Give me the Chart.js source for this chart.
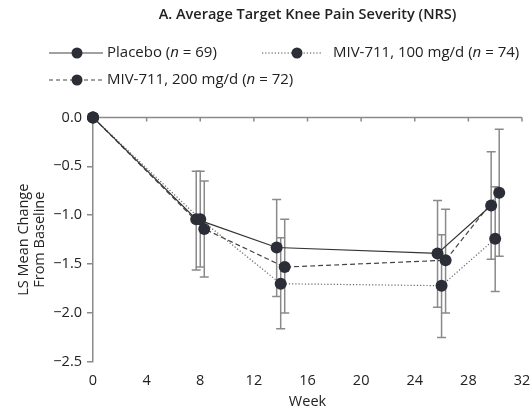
<!DOCTYPE html>
<html>
<head>
<meta charset="utf-8">
<script src="https://cdn.jsdelivr.net/npm/chart.js@4.4.0/dist/chart.umd.min.js"></script>
<style>
  body { margin: 0; background: #fff; }
  canvas { display: block; }
</style>
</head>
<body>
<canvas id="myChart" width="532" height="413"></canvas>
<script>
// values (week, LS mean, 95% CI ends)
const weeksPlacebo = [0, 7.7, 13.7, 25.7, 29.7];
const weeks100 = [0, 8.0, 14.0, 26.0, 30.0];
const weeks200 = [0, 8.3, 14.3, 26.3, 30.3];

const placebo = [0, -1.04, -1.33, -1.39, -0.90];
const placeboHi = [0, -0.55, -0.84, -0.85, -0.35];
const placeboLo = [0, -1.56, -1.83, -1.94, -1.45];

const miv100 = [0, -1.04, -1.70, -1.72, -1.24];
const miv100Hi = [0, -0.55, -1.23, -1.20, -0.71];
const miv100Lo = [0, -1.53, -2.16, -2.25, -1.78];

const miv200 = [0, -1.14, -1.53, -1.46, -0.77];
const miv200Hi = [0, -0.65, -1.04, -0.94, -0.12];
const miv200Lo = [0, -1.63, -2.00, -2.00, -1.42];

const xTicks = [0, 4, 8, 12, 16, 20, 24, 28, 32];
const yTicks = [0, -0.5, -1.0, -1.5, -2.0, -2.5];

const FONT = "'Open Sans', 'DejaVu Sans', sans-serif";
const FS = 14.5;
const DOT = '#2b2e36';
const AXIS = '#8a8a8a';

function pts(xs, ys) {
  return xs.map((x, i) => ({ x: x, y: ys[i] }));
}

// error bars, drawn behind the points
const errorBars = {
  id: 'errorBars',
  beforeDatasetsDraw(chart) {
    const ctx = chart.ctx;
    const xs = chart.scales.x, ys = chart.scales.y;
    ctx.save();
    ctx.strokeStyle = AXIS;
    ctx.lineWidth = 1.5;
    chart.data.datasets.forEach(ds => {
      ds.data.forEach((p, i) => {
        if (ds.hi[i] === ds.lo[i]) return;
        const px = xs.getPixelForValue(p.x);
        const top = ys.getPixelForValue(ds.hi[i]);
        const bot = ys.getPixelForValue(ds.lo[i]);
        ctx.beginPath();
        ctx.moveTo(px, top); ctx.lineTo(px, bot);
        ctx.moveTo(px - 4.5, top); ctx.lineTo(px + 4.5, top);
        ctx.moveTo(px - 4.5, bot); ctx.lineTo(px + 4.5, bot);
        ctx.stroke();
      });
    });
    ctx.restore();
  }
};

// horizontal axis line sits at y = 0 with ticks pointing down
const zeroAxis = {
  id: 'zeroAxis',
  beforeDatasetsDraw(chart) {
    const ctx = chart.ctx;
    const xs = chart.scales.x, ys = chart.scales.y;
    const y0 = ys.getPixelForValue(0);
    ctx.save();
    ctx.strokeStyle = AXIS;
    ctx.lineWidth = 1.5;
    ctx.beginPath();
    ctx.moveTo(xs.getPixelForValue(0), y0);
    ctx.lineTo(xs.getPixelForValue(32), y0);
    xTicks.forEach(t => {
      if (t === 0) return;
      const px = xs.getPixelForValue(t);
      ctx.moveTo(px, y0);
      ctx.lineTo(px, y0 + 4);
    });
    ctx.stroke();
    ctx.restore();
  }
};

// legend with italic n
const customLegend = {
  id: 'customLegend',
  afterDraw(chart) {
    const ctx = chart.ctx;
    const items = [
      { x0: 49, x1: 103, dot: 77, tx: 107, y: 53, dash: [], label: ['Placebo (', 'n', ' = 69)'] },
      { x0: 262, x1: 322, dot: 297, tx: 333, y: 53, dash: [1.2, 2], label: ['MIV-711, 100 mg/d (', 'n', ' = 74)'] },
      { x0: 49, x1: 103, dot: 77, tx: 107, y: 80, dash: [4, 3], label: ['MIV-711, 200 mg/d (', 'n', ' = 72)'] }
    ];
    ctx.save();
    items.forEach(it => {
      ctx.strokeStyle = '#444';
      ctx.lineWidth = 1.2;
      ctx.setLineDash(it.dash);
      ctx.beginPath();
      ctx.moveTo(it.x0, it.y); ctx.lineTo(it.x1, it.y);
      ctx.stroke();
      ctx.setLineDash([]);
      ctx.fillStyle = DOT;
      ctx.beginPath();
      ctx.arc(it.dot, it.y, 5.5, 0, Math.PI * 2);
      ctx.fill();
      ctx.fillStyle = '#222';
      ctx.textBaseline = 'middle';
      let x = it.tx;
      it.label.forEach((s, k) => {
        ctx.font = (k === 1 ? 'italic ' : '') + '15px ' + FONT;
        ctx.fillText(s, x, it.y);
        x += ctx.measureText(s).width;
      });
    });
    ctx.restore();
  }
};

function series(label, xs, ys, hi, lo, dash, color) {
  return {
    label: label,
    data: pts(xs, ys),
    hi: hi,
    lo: lo,
    showLine: true,
    borderColor: color,
    borderWidth: 1.2,
    borderDash: dash,
    pointRadius: 6,
    pointHoverRadius: 6,
    pointBackgroundColor: DOT,
    pointBorderWidth: 0,
    clip: false
  };
}

const canvas = document.getElementById('myChart');
const ctx = canvas.getContext('2d');
const myChart = new Chart(ctx, {
  type: 'scatter',
  data: {
    datasets: [
      series('Placebo (n = 69)', weeksPlacebo, placebo, placeboHi, placeboLo, [], '#333'),
      series('MIV-711, 100 mg/d (n = 74)', weeks100, miv100, miv100Hi, miv100Lo, [1.2, 2], '#666'),
      series('MIV-711, 200 mg/d (n = 72)', weeks200, miv200, miv200Hi, miv200Lo, [5, 3], '#444')
    ]
  },
  options: {
    responsive: false,
    animation: false,
    layout: { padding: { left: 0, right: 10, top: 0, bottom: 2 } },
    plugins: {
      legend: { display: false },
      tooltip: { enabled: false },
      title: {
        display: true,
        fullSize: false,
        text: 'A. Average Target Knee Pain Severity (NRS)',
        color: '#222',
        font: { family: FONT, size: FS, weight: '600' },
        padding: { top: 6, bottom: 94 }
      }
    },
    scales: {
      x: {
        type: 'linear',
        min: 0,
        max: 32,
        afterBuildTicks: s => { s.ticks = xTicks.map(v => ({ value: v })); },
        border: { display: false },
        grid: { display: false, drawTicks: true, tickLength: 10 },
        ticks: { color: '#222', font: { family: FONT, size: FS }, padding: 0, maxRotation: 0 },
        title: { display: true, text: 'Week', color: '#222', font: { family: FONT, size: FS }, padding: { top: 4, bottom: 0 } },
        afterFit: s => { s.height = 49; }
      },
      y: {
        min: -2.5,
        max: 0,
        afterBuildTicks: s => { s.ticks = yTicks.map(v => ({ value: v })); },
        border: { display: true, color: AXIS, width: 1.5 },
        grid: { drawOnChartArea: false, drawTicks: true, tickLength: 6, color: AXIS, lineWidth: 1.5 },
        ticks: {
          color: '#222',
          font: { family: FONT, size: FS },
          padding: 5,
          callback: v => (v < 0 ? '\u2212' : '') + Math.abs(v).toFixed(1)
        },
        title: {
          display: true,
          text: ['LS Mean Change', 'From Baseline'],
          color: '#222',
          font: { family: FONT, size: FS, lineHeight: 1.1 },
          padding: { top: 16, bottom: 0 }
        },
        afterFit: s => { s.width = 93; }
      }
    }
  },
  plugins: [errorBars, zeroAxis, customLegend]
});
</script>
</body>
</html>
